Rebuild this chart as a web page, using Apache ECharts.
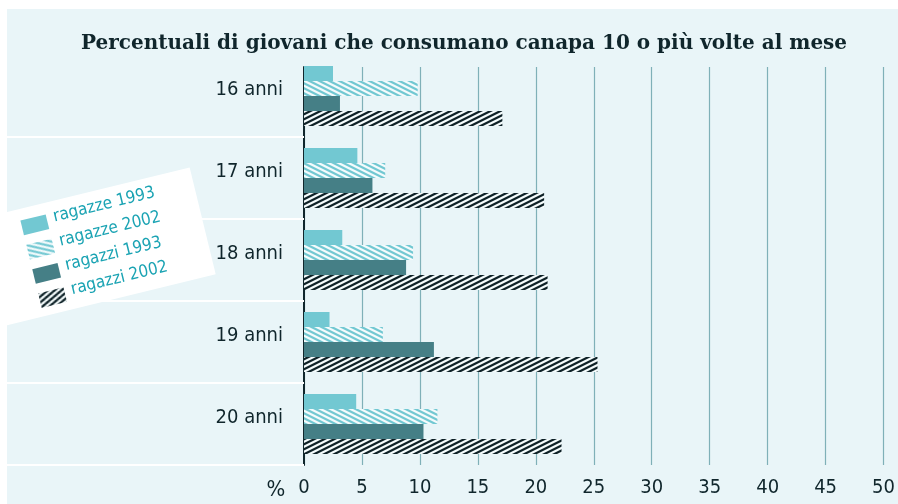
<!DOCTYPE html>
<html>
<head>
<meta charset="utf-8">
<script src="https://cdn.jsdelivr.net/npm/echarts@6/dist/echarts.min.js"></script>
<style>
html, body { margin: 0; padding: 0; background: #fff; }
#chart { width: 898px; height: 504px; }
</style>
</head>
<body>
<div id="chart"></div>
<script>
// dati (percentuali)
var categories = ['16 anni', '17 anni', '18 anni', '19 anni', '20 anni'];
var seriesNames = ['ragazze 1993', 'ragazze 2002', 'ragazzi 1993', 'ragazzi 2002'];
var ragazze1993 = [2.5, 4.6, 3.3, 2.2, 4.5];
var ragazze2002 = [9.8, 7.0, 9.4, 6.8, 11.5];
var ragazzi1993 = [3.1, 5.9, 8.8, 11.2, 10.3];
var ragazzi2002 = [17.1, 20.7, 21.0, 25.3, 22.2];
var xMin = 0, xMax = 50, xStep = 5;

var dark = '#10262c';
var cond = 'DejaVu Sans Condensed';

// tratteggio diagonale: up=true -> "/", false -> "\"
function stripes(fg, bg, up) {
    var W = 10, H = 5, S = 4;
    var c = document.createElement('canvas');
    c.width = W; c.height = H;
    var ctx = c.getContext('2d');
    var img = ctx.createImageData(W, H);
    var f = echarts.color.parse(fg), b = echarts.color.parse(bg);
    for (var y = 0; y < H; y++) {
        for (var x = 0; x < W; x++) {
            var hit = 0;
            for (var sy = 0; sy < S; sy++) {
                for (var sx = 0; sx < S; sx++) {
                    var px = x + (sx + 0.5) / S, py = y + (sy + 0.5) / S;
                    var t = up ? (py + px * H / W) : (py - px * H / W);
                    t = ((t % H) + H) % H;
                    if (t < H / 2) hit++;
                }
            }
            var a = hit / (S * S), i = (y * W + x) * 4;
            img.data[i] = Math.round(f[0] * a + b[0] * (1 - a));
            img.data[i + 1] = Math.round(f[1] * a + b[1] * (1 - a));
            img.data[i + 2] = Math.round(f[2] * a + b[2] * (1 - a));
            img.data[i + 3] = 255;
        }
    }
    ctx.putImageData(img, 0, 0);
    return { image: c, repeat: 'repeat' };
}

var fills = [
    '#72c8d2',
    stripes('#72c8d2', '#f4fbfc', false),
    '#457f86',
    stripes('#0e2127', '#f4fbfc', true)
];
var seriesData = [ragazze1993, ragazze2002, ragazzi1993, ragazzi2002];

var chart = echarts.init(document.getElementById('chart'));

// legenda ruotata (box bianco)
var legendChildren = [{
    type: 'rect', z: 100,
    shape: { x: -40, y: 0, width: 228, height: 110 },
    style: { fill: '#ffffff' }
}];
var legendY = [19, 44, 69, 94];
seriesNames.forEach(function (name, i) {
    legendChildren.push({
        type: 'rect', z: 101,
        shape: { x: 11, y: legendY[i] - 7.5, width: 26, height: 15 },
        style: { fill: fills[i] }
    });
    legendChildren.push({
        type: 'text', z: 101,
        x: 44, y: legendY[i] - 3,
        style: {
            text: name, fill: '#1aa3b3', font: '17px "' + cond + '"',
            textVerticalAlign: 'middle', verticalAlign: 'middle'
        }
    });
});

var option = {
    backgroundColor: '#ffffff',
    animation: false,
    title: {
        text: 'Percentuali di giovani che consumano canapa 10 o più volte al mese',
        left: 76, top: 29,
        textStyle: { fontFamily: 'DejaVu Serif', fontWeight: 'bold', fontSize: 20, color: dark }
    },
    graphic: [
        {
            type: 'rect', z: -10, silent: true,
            shape: { x: 7, y: 9, width: 900, height: 500 },
            style: { fill: '#e9f5f8' }
        },
        {
            type: 'group', x: 7, y: 212, rotation: 13.7 * Math.PI / 180, z: 100,
            children: legendChildren
        },
        {
            type: 'text', x: 276, y: 490, z: 50,
            style: { text: '%', fill: dark, font: '22px "' + cond + '"', textAlign: 'center', textVerticalAlign: 'middle', align: 'center', verticalAlign: 'middle' }
        }
    ],
    grid: [
        { left: 304, right: 14, top: 55, bottom: 39 },
        { left: 304, right: 14, top: 67, bottom: 39 }
    ],
    xAxis: [
        { gridIndex: 0, type: 'value', min: xMin, max: xMax, interval: xStep, show: false },
        {
            gridIndex: 1, type: 'value', min: xMin, max: xMax, interval: xStep,
            axisLine: { lineStyle: { color: dark, width: 1.5 } },
            axisTick: { length: 10, lineStyle: { color: dark, width: 1.5 } },
            axisLabel: { margin: 13, fontFamily: cond, fontSize: 20, color: dark },
            splitLine: { lineStyle: { color: '#7fb0b8', width: 1.2 } }
        }
    ],
    yAxis: [
        {
            gridIndex: 0, type: 'category', inverse: true, data: categories,
            axisLine: { show: true, lineStyle: { color: 'rgba(0,0,0,0)' } },
            axisTick: {
                show: true, length: 297, lineStyle: { color: '#ffffff', width: 2 },
                interval: function (i) { return i !== 0; }
            },
            axisLabel: { margin: 21, fontFamily: cond, fontSize: 20, color: dark, verticalAlign: 'bottom', lineHeight: 12 },
            splitLine: { show: false }
        },
        {
            gridIndex: 1, type: 'category', inverse: true, data: categories,
            axisLine: { lineStyle: { color: dark, width: 2 } },
            axisTick: { show: false },
            axisLabel: { show: false },
            splitLine: { show: false }
        }
    ],
    series: seriesNames.map(function (name, i) {
        return {
            name: name, type: 'bar',
            xAxisIndex: 0, yAxisIndex: 0,
            barWidth: 15, barGap: '0%',
            itemStyle: { color: fills[i] },
            data: seriesData[i]
        };
    })
};

chart.setOption(option);
</script>
</body>
</html>
